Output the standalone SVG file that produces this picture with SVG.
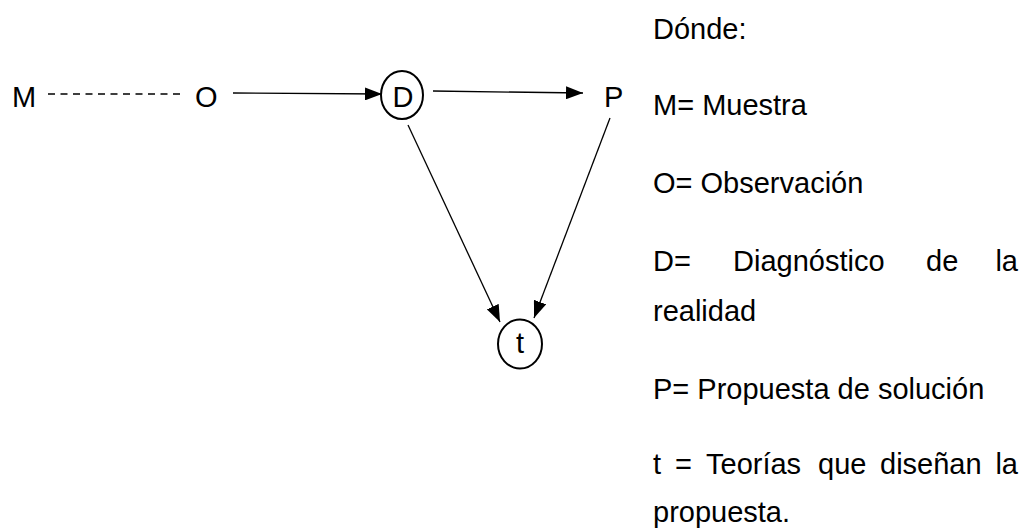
<svg xmlns="http://www.w3.org/2000/svg" width="1028" height="529" viewBox="0 0 1028 529">
<defs>
<marker id="ah" viewBox="0 0 17 13" refX="17" refY="6.5" markerWidth="17" markerHeight="13" markerUnits="userSpaceOnUse" orient="auto">
<path d="M0,0 L17,6.5 L0,13 Z" fill="#000"/>
</marker>
<style>
.t{font-family:"Liberation Sans",Arial,sans-serif;font-size:29px;fill:#000}
.n{fill:none;stroke:#000;stroke-width:2}
.c{stroke:#000;stroke-width:1.3;fill:none}
</style>
</defs>
<rect width="1028" height="529" fill="#fff"/>
<g id="node-M"><text class="t" x="12" y="107">M</text></g>
<g id="node-O"><text class="t" x="195" y="107">O</text></g>
<g id="node-D"><ellipse class="n" cx="402" cy="95" rx="21" ry="24"/><text class="t" x="403" y="107" text-anchor="middle">D</text></g>
<g id="node-P"><text class="t" x="604" y="107">P</text></g>
<g id="node-t"><ellipse class="n" cx="520" cy="344" rx="22" ry="24.5"/><text class="t" x="520" y="353" text-anchor="middle">t</text></g>
<g id="connectors">
<line x1="48" y1="94" x2="182" y2="94" stroke="#000" stroke-width="1.6" stroke-dasharray="7,5.5"/>
<line class="c" x1="233" y1="93" x2="382" y2="94" marker-end="url(#ah)"/>
<line class="c" x1="433" y1="91" x2="583" y2="93" marker-end="url(#ah)"/>
<line class="c" x1="408" y1="125" x2="500" y2="322" marker-end="url(#ah)"/>
<line class="c" x1="610" y1="118" x2="534" y2="318" marker-end="url(#ah)"/>
</g>
<g id="legend">
<text class="t" x="653" y="39">Dónde:</text>
<text class="t" x="653" y="115">M= Muestra</text>
<text class="t" x="653" y="193">O= Observación</text>
<text class="t" y="271"><tspan x="653">D=</tspan><tspan x="733">Diagnóstico</tspan><tspan x="926">de</tspan><tspan x="1018" text-anchor="end">la</tspan></text>
<text class="t" x="653" y="321">realidad</text>
<text class="t" x="653" y="399">P= Propuesta de solución</text>
<text class="t" y="474"><tspan x="653">t</tspan><tspan x="675">=</tspan><tspan x="706">Teorías</tspan><tspan x="818">que</tspan><tspan x="880">diseñan</tspan><tspan x="1018" text-anchor="end">la</tspan></text>
<text class="t" x="653" y="522">propuesta.</text>
</g>
</svg>
